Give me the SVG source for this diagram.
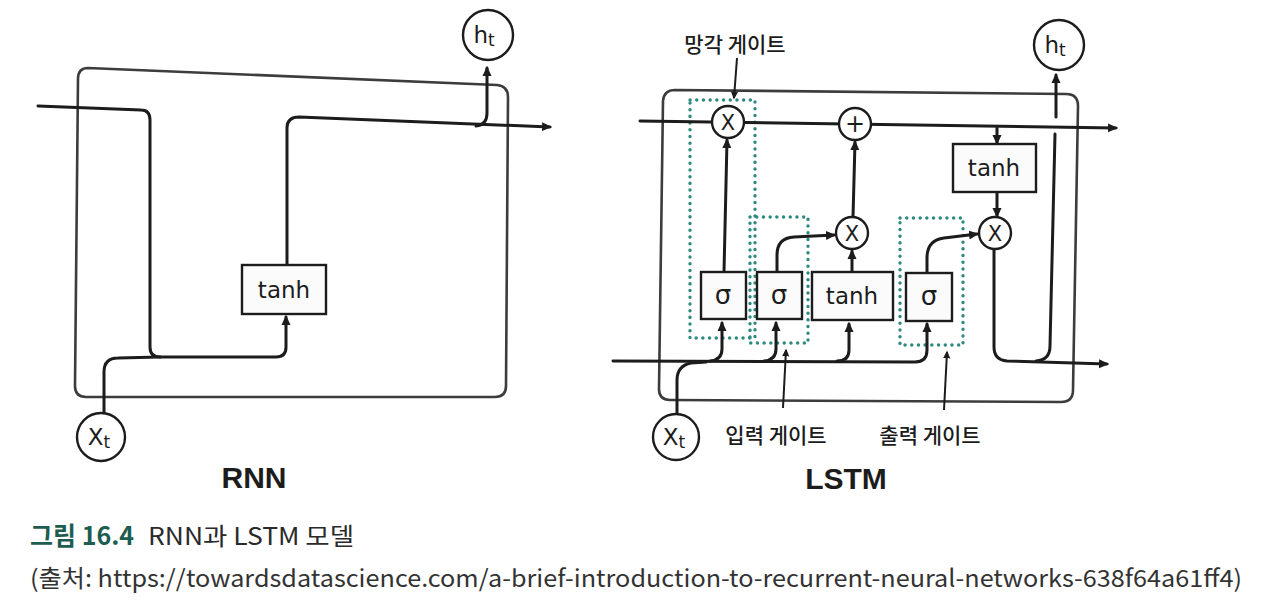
<svg xmlns="http://www.w3.org/2000/svg" width="1280" height="615" viewBox="0 0 1280 615">
<defs>
<marker id="ah" viewBox="0 0 10 10" refX="8" refY="5" markerWidth="10" markerHeight="10" markerUnits="userSpaceOnUse" orient="auto">
<path d="M0,0.5 L10,5 L0,9.5 z" fill="#1c1c1c"/>
</marker>
<marker id="ahs" viewBox="0 0 10 10" refX="8" refY="5" markerWidth="8" markerHeight="8" markerUnits="userSpaceOnUse" orient="auto">
<path d="M0,0.5 L10,5 L0,9.5 z" fill="#1c1c1c"/>
</marker>
<style>
.frame{fill:none;stroke:#3c3c3c;stroke-width:2.6;stroke-linejoin:round}
.ln{fill:none;stroke:#1c1c1c;stroke-width:3;stroke-linecap:round;stroke-linejoin:round}
.ar{marker-end:url(#ah)}
.thin{fill:none;stroke:#1c1c1c;stroke-width:2;marker-end:url(#ahs)}
.box{fill:#fbfbfb;stroke:#1c1c1c;stroke-width:2.4}
.op{fill:#fff;stroke:#1c1c1c;stroke-width:2.4}
.gate{fill:none;stroke:#2e8a7e;stroke-width:3.4;stroke-dasharray:0.1 6.6;stroke-linecap:round}
.t{font-family:"DejaVu Sans","Liberation Sans",sans-serif;fill:#1c1c1c;text-anchor:middle}
.lbl{font-family:"Noto Sans CJK KR","Noto Sans",sans-serif;font-size:21px;fill:#1c1c1c;text-anchor:middle;font-weight:500}
.title{font-family:"Liberation Sans","DejaVu Sans",sans-serif;font-size:30px;font-weight:bold;fill:#1c1c1c;text-anchor:middle}
</style>
</defs>
<rect width="1280" height="615" fill="#ffffff"/>

<!-- RNN -->
<g id="rnn-frame"><path class="frame" d="M88,68 L497,85 Q508,86 508,97 L506,386 Q506,397 495,397 L86,397 Q75,397 75,386 L78,79 Q78,68 88,68 Z"/></g>
<g id="rnn-connectors">
<path class="ln ar" d="M38,106 L141,110 Q150,110 150,120 L150,347 Q150,357 160,357 L276,357 Q286,357 286,347 L286,317"/>
<path class="ln" d="M104,413 L104,372 Q104,358 118,358 L160,357"/>
<path class="ln ar" d="M287,265 L287,128 Q287,117 299,117 L550,127"/>
<path class="ln ar" d="M476,126 Q487,125 487,113 L487,68"/>
</g>
<g id="rnn-tanh"><rect class="box" x="242" y="265" width="84" height="49"/><text class="t" x="284" y="298" font-size="23">tanh</text></g>
<g id="rnn-ht"><circle class="op" cx="488" cy="35" r="25"/><text class="t" x="484" y="43" font-size="23">h<tspan font-size="17" dy="3">t</tspan></text></g>
<g id="rnn-xt"><circle class="op" cx="101" cy="437" r="24"/><text class="t" x="99" y="445" font-size="23">X<tspan font-size="17" dy="3">t</tspan></text></g>
<g id="rnn-title"><text class="title" x="254" y="488">RNN</text></g>

<!-- LSTM -->
<g id="lstm-frame"><path class="frame" d="M675,90 L1066,94 Q1078,94 1078,106 L1073,390 Q1073,402 1061,402 L670,400 Q659,400 659,389 L663,101 Q664,90 675,90 Z"/></g>
<g id="lstm-gates">
<rect class="gate" x="690" y="100" width="65" height="238"/>
<rect class="gate" x="750" y="217" width="58" height="126"/>
<rect class="gate" x="900" y="218" width="63" height="127"/>
</g>
<g id="lstm-connectors">
<path class="ln ar" d="M640,121 L1116,128"/>
<path class="ln ar" d="M997,128 L997,143"/>
<path class="ln ar" d="M997,192 L997,216"/>
<path class="ln ar" d="M994,249 L994,347 Q994,360 1007,361 L1107,364"/>
<path class="ln" d="M1036,361 Q1050,360 1050,346 L1055,134"/>
<path class="ln ar" d="M1056,117 L1056,75"/>
<path class="ln ar" d="M613,361 L915,362 Q927,362 927,350 L927,324"/>
<path class="ln ar" d="M710,361 Q722,360 722,349 L722,323"/>
<path class="ln ar" d="M764,361 Q776,360 776,349 L776,323"/>
<path class="ln ar" d="M837,361 Q849,361 849,350 L849,324"/>
<path class="ln" d="M677,415 L677,380 Q677,366 691,363 L706,362"/>
<path class="ln ar" d="M724,272 L727,140"/>
<path class="ln ar" d="M777,272 L777,255 Q777,238 794,237 L834,235"/>
<path class="ln ar" d="M852,272 L852,251"/>
<path class="ln ar" d="M853,217 L855,142"/>
<path class="ln ar" d="M927,273 L927,258 Q927,240 944,238 L977,234"/>
<path class="thin" d="M737,58 L734,98"/>
<path class="thin" d="M783,408 L786,350"/>
<path class="thin" d="M944,410 L947,352"/>
</g>
<g id="lstm-forget-x"><circle class="op" cx="728" cy="122" r="16"/><text class="t" x="728" y="130" font-size="21">X</text></g>
<g id="lstm-plus"><circle class="op" cx="855" cy="124" r="16"/><text class="t" x="855" y="132" font-size="24">+</text></g>
<g id="lstm-input-x"><circle class="op" cx="852" cy="233" r="16"/><text class="t" x="852" y="241" font-size="21">X</text></g>
<g id="lstm-output-x"><circle class="op" cx="995" cy="233" r="16"/><text class="t" x="995" y="241" font-size="21">X</text></g>
<g id="lstm-sigma1"><rect class="box" x="701" y="272" width="45" height="47"/><text class="t" x="723" y="304" font-size="26">σ</text></g>
<g id="lstm-sigma2"><rect class="box" x="757" y="272" width="45" height="47"/><text class="t" x="779" y="304" font-size="26">σ</text></g>
<g id="lstm-tanh1"><rect class="box" x="812" y="272" width="81" height="48"/><text class="t" x="852" y="304" font-size="23">tanh</text></g>
<g id="lstm-sigma3"><rect class="box" x="906" y="273" width="46" height="48"/><text class="t" x="929" y="305" font-size="26">σ</text></g>
<g id="lstm-tanh2"><rect class="box" x="953" y="144" width="83" height="48"/><text class="t" x="994" y="176" font-size="23">tanh</text></g>
<g id="lstm-ht"><circle class="op" cx="1059" cy="45" r="25"/><text class="t" x="1055" y="53" font-size="23">h<tspan font-size="17" dy="3">t</tspan></text></g>
<g id="lstm-xt"><circle class="op" cx="676" cy="437" r="23"/><text class="t" x="674" y="445" font-size="23">X<tspan font-size="17" dy="3">t</tspan></text></g>
<g id="lstm-labels">
<text class="lbl" x="735" y="52">망각 게이트</text>
<text class="lbl" x="776" y="443">입력 게이트</text>
<text class="lbl" x="930" y="443">출력 게이트</text>
</g>
<g id="lstm-title"><text class="title" x="846" y="489">LSTM</text></g>

<!-- caption -->
<g id="caption">
<text x="30" y="545" font-family="'Noto Sans CJK KR','Noto Sans',sans-serif" font-size="25" font-weight="bold" fill="#1d5c50">그림 16.4</text>
<text x="148" y="545" font-family="'Noto Sans CJK KR','Liberation Sans',sans-serif" font-size="24" fill="#2a2a2a" textLength="206" lengthAdjust="spacingAndGlyphs">RNN과 LSTM 모델</text>
<text x="30" y="587" font-family="'Noto Sans CJK KR','Liberation Sans',sans-serif" font-size="24" fill="#333333" textLength="1212" lengthAdjust="spacingAndGlyphs">(출처: https://towardsdatascience.com/a-brief-introduction-to-recurrent-neural-networks-638f64a61ff4)</text>
</g>
</svg>
